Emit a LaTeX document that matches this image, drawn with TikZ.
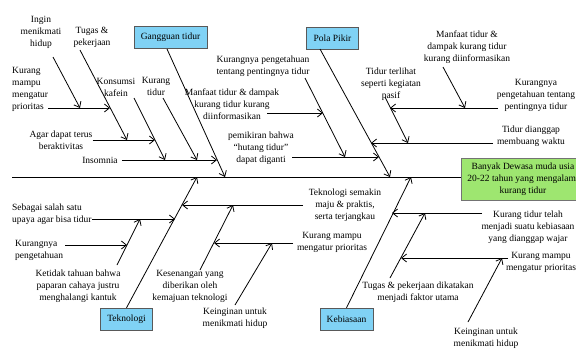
\documentclass[tikz,border=0pt]{standalone}
\usepackage{fontspec}
\setmainfont{Liberation Serif}
\usetikzlibrary{arrows.meta}
\usepackage{xcolor}
\definecolor{catblue}{RGB}{128,210,245}
\definecolor{headgreen}{RGB}{158,230,112}

\begin{document}
\begin{tikzpicture}[
    x=1pt,
    y=-1pt,
    font=\fontsize{9.5}{12}\selectfont,
    cause/.style={align=center, inner sep=0pt},
    causeleft/.style={align=left, inner sep=0pt, anchor=west},
    category/.style={rectangle, draw=black!65, fill=catblue, minimum height=22pt, inner xsep=7pt, inner ysep=2pt},
    headbox/.style={rectangle, draw=black!55, fill=headgreen, align=center, minimum width=124pt, minimum height=42pt, inner sep=2pt},
    line/.style={-{Straight Barb[length=5pt,width=8pt]}, line width=0.8pt},
    spine/.style={line width=0.9pt}
]
\useasboundingbox (0,0) rectangle (576,349);
\clip (0,0) rectangle (576,349);

% kepala
\node[headbox] (head) at (523,179) {Banyak Dewasa muda usia\\20-22 tahun yang mengalami\\kurang tidur};
\coordinate (spineL) at (12,177);
\draw[spine] (spineL) -- (head.west |- spineL);

% kategori
\node[category] (gangguan) at (170.5,37.5) {Gangguan tidur};
\node[category] (polapikir) at (332.5,38) {Pola Pikir};
\node[category] (teknologi) at (126.5,319) {Teknologi};
\node[category] (kebiasaan) at (346.5,319) {Kebiasaan};

% Gangguan tidur
\node[cause] (ingin) at (41,32) {Ingin\\menikmati\\hidup};
\node[cause] (tugasA) at (92,37) {Tugas \&\\pekerjaan};
\node[causeleft] (mampuA) at (12,89) {Kurang\\mampu\\mengatur\\prioritas};
\node[cause] (konsumsi) at (116,87) {Konsumsi\\kafein};
\node[cause] (kurangtidur) at (156,86) {Kurang\\tidur};
\node[cause] (agar) at (61,140) {Agar dapat terus\\beraktivitas};
\node[cause] (insomnia) at (100,160) {Insomnia};

\coordinate (gangS) at (167,49);
\coordinate (gangT) at (225,177);
\coordinate (insomniaT) at (217,160);
\coordinate (kurangtidurS) at (163,98);
\coordinate (kurangtidurT) at (197,160);
\coordinate (konsumsiS) at (134,98);
\coordinate (konsumsiT) at (165,160);
\coordinate (agarT) at (155,140);
\coordinate (tugasAS) at (80,50);
\coordinate (tugasAT) at (127,140);
\coordinate (mampuAT) at (110,108);
\coordinate (inginS) at (53,57);
\coordinate (inginT) at (80,108);

\draw[line] (gangS) -- (gangT);
\draw[line] (insomnia.east) ++(4,0) -- (insomniaT);
\draw[line] (kurangtidurS) -- (kurangtidurT);
\draw[line] (konsumsiS) -- (konsumsiT);
\draw[line] (agar.east |- agarT) -- (agarT);
\draw[line] (tugasAS) -- (tugasAT);
\draw[line] (mampuA.east |- mampuAT) -- (mampuAT);
\draw[line] (inginS) -- (inginT);

% Pola Pikir
\node[cause] (kurangnyaA) at (263,66) {Kurangnya pengetahuan\\tentang pentingnya tidur};
\node[cause] (manfaatA) at (232,104) {Manfaat tidur \& dampak\\kurang tidur kurang\\diinformasikan};
\node[cause] (pemikiran) at (261,148) {pemikiran bahwa\\“hutang tidur”\\dapat diganti};
\node[cause] (terlihat) at (391,84) {Tidur terlihat\\seperti kegiatan\\pasif};
\node[cause] (manfaatB) at (467,47) {Manfaat tidur \&\\dampak kurang tidur\\kurang diinformasikan};
\node[cause] (kurangnyaB) at (536,95) {Kurangnya\\pengetahuan tentang\\pentingnya tidur};
\node[cause] (dianggap) at (531,136) {Tidur dianggap\\membuang waktu};

\coordinate (polaS) at (320,49);
\coordinate (polaT) at (390,177);
\coordinate (pemikiranS) at (292,157);
\coordinate (pemikiranT) at (379,157);
\coordinate (kurangnyaAS) at (305,78);
\coordinate (kurangnyaAT) at (345,157);
\coordinate (manfaatAS) at (267,113);
\coordinate (manfaatAT) at (323,113);
\coordinate (dianggapS) at (493,143);
\coordinate (dianggapT) at (371,143);
\coordinate (terlihatS) at (385,97);
\coordinate (terlihatT) at (408,143);
\coordinate (kurangnyaBS) at (498,108);
\coordinate (kurangnyaBT) at (390,108);
\coordinate (manfaatBS) at (443,67);
\coordinate (manfaatBT) at (465,108);

\draw[line] (polaS) -- (polaT);
\draw[line] (pemikiranS) -- (pemikiranT);
\draw[line] (kurangnyaAS) -- (kurangnyaAT);
\draw[line] (manfaatAS) -- (manfaatAT);
\draw[line] (dianggapS) -- (dianggapT);
\draw[line] (terlihatS) -- (terlihatT);
\draw[line] (kurangnyaBS) -- (kurangnyaBT);
\draw[line] (manfaatBS) -- (manfaatBT);

% Teknologi
\node[causeleft] (sebagai) at (12,214) {Sebagai salah satu\\upaya agar bisa tidur};
\node[causeleft] (kurangnyaC) at (15,250) {Kurangnya\\pengetahuan};
\node[cause] (ketidak) at (78,286) {Ketidak tahuan bahwa\\paparan cahaya justru\\menghalangi kantuk};
\node[cause] (semakin) at (345,205) {Teknologi semakin\\maju \& praktis,\\serta terjangkau};
\node[cause] (kesenangan) at (190,286) {Kesenangan yang\\diberikan oleh\\kemajuan teknologi};
\node[cause] (mampuB) at (332,242) {Kurang mampu\\mengatur prioritas};
\node[cause] (keinginanA) at (235,318) {Keinginan untuk\\menikmati hidup};

\coordinate (tekT) at (197,177);
\coordinate (sebagaiS) at (92,219);
\coordinate (sebagaiT) at (175,219);
\coordinate (ketidakS) at (117,265);
\coordinate (ketidakT) at (140,219);
\coordinate (kurangnyaCS) at (65,245);
\coordinate (kurangnyaCT) at (127,245);
\coordinate (semakinS) at (303,205);
\coordinate (semakinT) at (182,205);
\coordinate (kesenanganS) at (200,270);
\coordinate (kesenanganT) at (233,205);
\coordinate (mampuBS) at (293,243);
\coordinate (mampuBT) at (214,243);
\coordinate (keinginanAS) at (235,305);
\coordinate (keinginanAT) at (272,243);

\draw[line] (teknologi.north) -- (tekT);
\draw[line] (sebagaiS) -- (sebagaiT);
\draw[line] (ketidakS) -- (ketidakT);
\draw[line] (kurangnyaCS) -- (kurangnyaCT);
\draw[line] (semakinS) -- (semakinT);
\draw[line] (kesenanganS) -- (kesenanganT);
\draw[line] (mampuBS) -- (mampuBT);
\draw[line] (keinginanAS) -- (keinginanAT);

% Kebiasaan
\node[cause] (telah) at (528,227) {Kurang tidur telah\\menjadi suatu kebiasaan\\yang dianggap wajar};
\node[cause] (tugasB) at (418,292) {Tugas \& pekerjaan dikatakan\\menjadi faktor utama};
\node[cause] (mampuC) at (541,262) {Kurang mampu\\mengatur prioritas};
\node[cause] (keinginanB) at (486,338) {Keinginan untuk\\menikmati hidup};

\coordinate (kebT) at (411,177);
\coordinate (telahS) at (482,213);
\coordinate (telahT) at (392,213);
\coordinate (tugasBS) at (390,278);
\coordinate (tugasBT) at (425,213);
\coordinate (mampuCS) at (508,258);
\coordinate (mampuCT) at (401,258);
\coordinate (keinginanBS) at (468,322);
\coordinate (keinginanBT) at (502,258);

\draw[line] (kebiasaan.north) -- (kebT);
\draw[line] (telahS) -- (telahT);
\draw[line] (tugasBS) -- (tugasBT);
\draw[line] (mampuCS) -- (mampuCT);
\draw[line] (keinginanBS) -- (keinginanBT);
\end{tikzpicture}
\end{document}
